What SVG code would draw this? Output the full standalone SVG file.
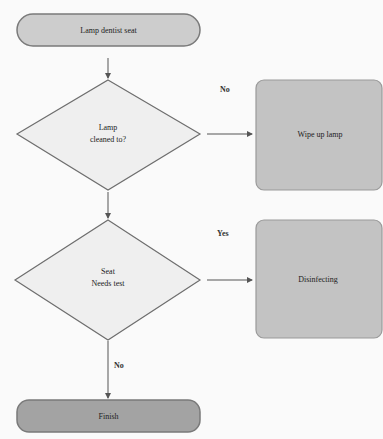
<svg xmlns="http://www.w3.org/2000/svg" width="383" height="439" viewBox="0 0 383 439">
<style>
.term{stroke:#7a7a7a;stroke-width:1.5}
.dia{fill:#efefef;stroke:#6e6e6e;stroke-width:1.2}
.box{fill:#c3c3c3;stroke:#9a9a9a;stroke-width:1.2}
.t{font-family:"Liberation Serif",serif;font-size:8px;fill:#222;text-anchor:middle}
.lbl{font-family:"Liberation Serif",serif;font-size:8px;font-weight:bold;fill:#333}
.c{stroke:#555;stroke-width:1;fill:none;marker-end:url(#ah)}
</style>
<defs>
<marker id="ah" markerWidth="6" markerHeight="6" refX="5" refY="3" orient="auto" markerUnits="userSpaceOnUse">
<path d="M0,0 L6,3 L0,6 z" fill="#555"/>
</marker>
</defs>
<rect width="383" height="439" fill="#fafafa"/>
<g id="start">
<rect class="term" x="17" y="14" width="183" height="32" rx="16" fill="#cdcdcd"/>
<text class="t" x="108.5" y="33">Lamp dentist seat</text>
</g>
<g id="decision1">
<polygon class="dia" points="108,80 200,134 108,190 17,134"/>
<text class="t" x="108" y="130">Lamp</text>
<text class="t" x="108" y="142">cleaned to?</text>
</g>
<g id="box1">
<rect class="box" x="256" y="80" width="126" height="110" rx="8"/>
<text class="t" x="320" y="137">Wipe up lamp</text>
</g>
<g id="decision2">
<polygon class="dia" points="108,220 200,280 108,340 15,280"/>
<text class="t" x="108" y="274">Seat</text>
<text class="t" x="108" y="286">Needs test</text>
</g>
<g id="box2">
<rect class="box" x="256" y="220" width="126" height="118" rx="8"/>
<text class="t" x="318" y="282">Disinfecting</text>
</g>
<g id="end">
<rect class="term" x="17" y="400" width="183" height="32" rx="12" fill="#a3a3a3"/>
<text class="t" x="108.5" y="419">Finish</text>
</g>
<g id="connectors">
<line class="c" x1="108" y1="58" x2="108" y2="78"/>
<line class="c" x1="207" y1="134" x2="252" y2="134"/>
<line class="c" x1="108" y1="192" x2="108" y2="218"/>
<line class="c" x1="207" y1="280" x2="252" y2="280"/>
<line class="c" x1="108" y1="341" x2="108" y2="398"/>
<text class="lbl" x="220" y="92">No</text>
<text class="lbl" x="217" y="236">Yes</text>
<text class="lbl" x="114" y="368">No</text>
</g>
</svg>
